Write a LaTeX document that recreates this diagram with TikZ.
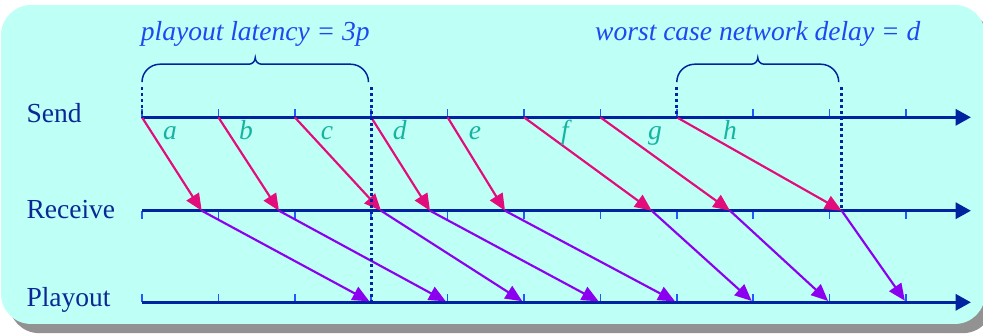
\documentclass[tikz,border=0pt]{standalone}
\usepackage{fontspec}
\setmainfont{Liberation Serif}
\usetikzlibrary{arrows.meta,calc,positioning}

\definecolor{panel}{RGB}{190,255,246}
\definecolor{shadowgray}{RGB}{146,146,146}
\definecolor{axisblue}{RGB}{0,36,160}
\definecolor{tickblue}{RGB}{30,90,255}
\definecolor{sendpink}{RGB}{226,12,122}
\definecolor{playpurple}{RGB}{140,0,240}
\definecolor{pktteal}{RGB}{22,180,160}
\definecolor{notecol}{RGB}{32,72,240}
\definecolor{rowcol}{RGB}{12,40,150}

\tikzset{
  timeline/.style={axisblue,line width=2.2pt,-{Triangle[length=0.4cm,width=0.42cm]}},
  tickmark/.style={tickblue,line width=1.1pt},
  transit/.style={sendpink,line width=1.6pt,-{Triangle[length=0.44cm,width=0.38cm]}},
  holdback/.style={playpurple,line width=1.6pt,shorten >=1.5pt,-{Triangle[length=0.44cm,width=0.38cm]}},
  bound/.style={axisblue,line width=2.2pt,dash pattern=on 2.2pt off 2.2pt},
  spanbrace/.style={axisblue,line width=1.1pt},
  rowlabel/.style={rowcol,anchor=base west,inner sep=0pt,font=\fontsize{20.5}{24}\selectfont},
  pktlabel/.style={pktteal,anchor=base,inner sep=0pt,font=\fontsize{20.5}{24}\selectfont\itshape},
  delaynote/.style={notecol,anchor=base,inner sep=0pt,font=\fontsize{20.5}{24}\selectfont\itshape}
}

\begin{document}
\begin{tikzpicture}
  \useasboundingbox (-3.717,-5.673) rectangle (22.016,3.071);
  \fill[shadowgray,rounded corners=0.79cm] (-3.48,-5.65) rectangle (22.28,2.70);
  \fill[panel,rounded corners=0.79cm] (-3.69,-5.41) rectangle (22.07,2.94);

  \coordinate (send) at (0,0);
  \coordinate (recv) at (0,-2.445);
  \coordinate (play) at (0,-4.843);
  \coordinate (top) at (0,0.79);

  \foreach \i in {0,...,10} {
    \coordinate (s\i) at (2*\i,0);
    \coordinate (q\i) at (2*\i,-2.445);
    \coordinate (p\i) at (2*\i,-4.843);
    \draw[tickmark] (s\i) -- ++(0,0.22);
    \draw[tickmark] (q\i) -- ++(0,-0.22);
    \draw[tickmark] (p\i) -- ++(0,0.22);
  }

  \draw[timeline] (send) -- ++(21.7,0);
  \draw[timeline] (recv) -- ++(21.7,0);
  \draw[timeline] (play) -- ++(21.7,0);

  \node[rowlabel] (sendlbl) at (-3.03,-0.14) {Send};
  \node[rowlabel] (recvlbl) at (-3.03,-2.64) {Receive};
  \node[rowlabel] (playlbl) at (-3.03,-4.96) {Playout};

  \foreach \n/\x/\lx [count=\k from 0] in {a/1.563/0.733, b/3.586/2.72, c/6.257/4.84,
      d/7.539/6.75, e/9.503/8.72, f/13.343/11.07, g/15.393/13.43, h/18.317/15.39} {
    \pgfmathtruncatemacro{\j}{\k+3}
    \coordinate (r\n) at (\x,-2.445);
    \draw[transit] (s\k) -- (r\n);
    \draw[holdback] (r\n) -- (p\j);
    \node[pktlabel] (lbl\n) at (\lx,-0.59) {\n};
  }

  \draw[bound] (s0 |- top) -- (s0);
  \draw[bound] (p3 |- top) -- (p3);
  \draw[bound] (s7 |- top) -- (s7);
  \draw[bound] (rh |- top) -- (rh);

  \foreach \l/\r in {0/5.93, 14/18.24} {
    \pgfmathsetmacro{\m}{(\l+\r)/2}
    \draw[spanbrace] (\l,0.92) arc[start angle=180,end angle=90,radius=0.47]
      -- (\m-0.17,1.39) arc[start angle=-90,end angle=0,radius=0.17]
      arc[start angle=180,end angle=270,radius=0.17]
      -- (\r-0.47,1.39) arc[start angle=90,end angle=0,radius=0.47];
  }

  \node[delaynote] (latency) at (2.965,2.02) {playout latency = 3p};
  \node[delaynote] (worst) at (16.12,2.02) {worst case network delay = d};
\end{tikzpicture}
\end{document}
